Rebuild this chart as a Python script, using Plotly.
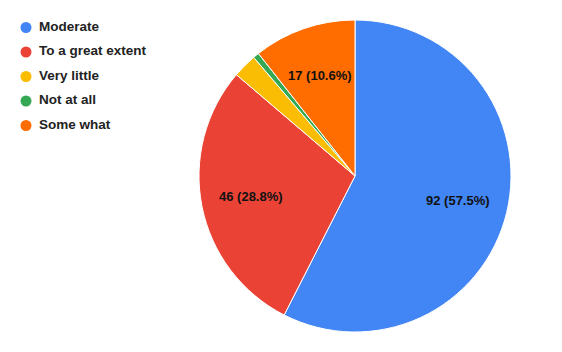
import math
import plotly.graph_objects as go

labels = ["Moderate", "To a great extent", "Very little", "Not at all", "Some what"]
values = [92, 46, 4, 1, 17]
colors = ["#4285F4", "#EA4335", "#FBBC04", "#34A853", "#FF6D01"]

W, H = 562, 352
FONT = "Liberation Sans, Arial"
total = sum(values)

# pie placement (pixels -> paper)
px0, px1, py0, py1 = 199, 511, 19, 333
cx, cy = (px0 + px1) / 2 / W, 1 - (py0 + py1) / 2 / H
R = min(px1 - px0, py1 - py0) / 2

fig = go.Figure()
fig.add_trace(go.Pie(
    labels=labels, values=values, sort=False, direction="clockwise", rotation=0,
    marker=dict(colors=colors, line=dict(color="white", width=1)),
    textinfo="none", showlegend=False, hoverinfo="label+value+percent",
    domain=dict(x=[px0 / W, px1 / W], y=[1 - py1 / H, 1 - py0 / H]),
))

# slice labels, placed at the mid-angle of each slice
cum = 0
for v in values:
    frac = v / total
    mid = (cum + frac / 2) * 2 * math.pi
    cum += frac
    if frac < 0.05:
        continue
    pct = math.floor(frac * 1000 + 0.5) / 10
    r = 0.68 * R
    fig.add_annotation(
        x=cx + r * math.sin(mid) / W, y=cy + r * math.cos(mid) / H,
        xref="paper", yref="paper", xanchor="center", yanchor="middle",
        showarrow=False, text=f"{v} ({pct:.1f}%)",
        font=dict(family=FONT, size=13, color="#111111", weight="bold"),
    )

# custom legend (circle markers + labels)
ys = [-i for i in range(len(labels))]
fig.add_trace(go.Scatter(
    x=[0] * len(labels), y=ys, mode="markers",
    marker=dict(symbol="circle", size=11, color=colors),
    showlegend=False, hoverinfo="skip", cliponaxis=False,
))
fig.add_trace(go.Scatter(
    x=[13] * len(labels), y=ys, mode="text", text=labels, textposition="middle right",
    textfont=dict(family=FONT, size=13.5, color="#222222", weight="bold"),
    showlegend=False, hoverinfo="skip", cliponaxis=False,
))

step = 24.5
top = 27.5
left = 26
fig.update_layout(
    width=W, height=H, margin=dict(l=0, r=0, t=0, b=0),
    paper_bgcolor="white", plot_bgcolor="rgba(0,0,0,0)",
    xaxis=dict(visible=False, range=[-left, W - left], fixedrange=True),
    yaxis=dict(visible=False, range=[-(H - top) / step, top / step], fixedrange=True),
    showlegend=False,
)
fig.write_html("out.html")
